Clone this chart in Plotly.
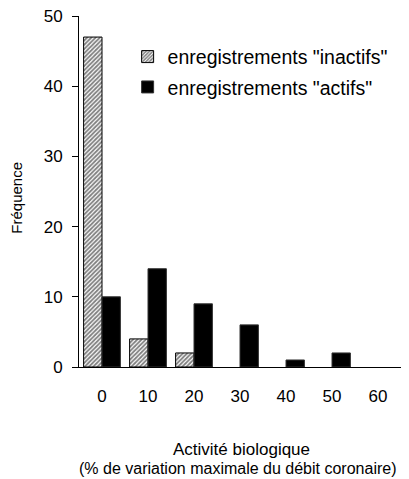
import plotly.graph_objects as go

categories = ["0", "10", "20", "30", "40", "50", "60"]
inactifs = [47, 4, 2, 0, 0, 0, 0]
actifs = [10, 14, 9, 6, 1, 2, 0]
y_ticks = [0, 10, 20, 30, 40, 50]
name_inactifs = 'enregistrements "inactifs"'
name_actifs = 'enregistrements "actifs"'
x_title_1 = "Activité biologique"
x_title_2 = "(% de variation maximale du débit coronaire)"
y_title = "Fréquence"

FONT = "Liberation Sans, Arial, sans-serif"

# the page body has an 8px margin; the figure is sized to fit the window
W, H = 401, 471

fig = go.Figure()
fig.add_trace(go.Bar(
    x=categories, y=inactifs, name=name_inactifs, legendgroup="a",
    marker=dict(color="white",
                line=dict(color="black", width=[1 if v > 0 else 0 for v in inactifs]),
                pattern=dict(shape="/", size=3, solidity=0.6,
                             fgcolor="black", bgcolor="white", fillmode="overlay")),
))
fig.add_trace(go.Bar(
    x=categories, y=actifs, name=name_actifs, legendgroup="b",
    marker=dict(color="black",
                line=dict(color="#333333", width=[1 if v > 0 else 0 for v in actifs])),
))

fig.update_layout(
    width=W, height=H,
    margin=dict(l=71, r=8, t=8, b=112, autoexpand=False),
    paper_bgcolor="white", plot_bgcolor="white",
    font=dict(family=FONT, color="black", size=17),
    barmode="group", bargap=0.2, bargroupgap=0,
    showlegend=True,
    legend=dict(x=0.151, y=0.939, xanchor="left", yanchor="top",
                font=dict(size=19.5, family=FONT, color="black"),
                traceorder="grouped", tracegroupgap=2,
                bgcolor="rgba(0,0,0,0)", itemwidth=30),
    xaxis=dict(type="category", showline=True, linecolor="black", linewidth=1,
               ticks="", showgrid=False, zeroline=False, automargin=False,
               tickfont=dict(size=17), ticklabelstandoff=14),
    yaxis=dict(range=[0, 50], tickvals=y_ticks, showline=True, linecolor="black",
               linewidth=1, ticks="outside", ticklen=6, tickcolor="black",
               showgrid=False, zeroline=False, tickfont=dict(size=17),
               automargin=False, ticklabelstandoff=6, ticklabeloverflow="allow"),
    annotations=[
        dict(text=y_title, xref="paper", yref="paper", x=-0.194, y=0.481,
             xanchor="center", yanchor="middle", textangle=-90, showarrow=False,
             font=dict(size=15, family=FONT, color="black")),
        dict(text=x_title_1, xref="paper", yref="paper", x=0.5056, y=-0.234,
             xanchor="center", yanchor="middle", showarrow=False,
             font=dict(size=17, family=FONT, color="black")),
        dict(text=x_title_2, xref="paper", yref="paper", x=0.4928, y=-0.29,
             xanchor="center", yanchor="middle", showarrow=False,
             font=dict(size=16, family=FONT, color="black")),
    ],
)

fig.write_html("out.html")
